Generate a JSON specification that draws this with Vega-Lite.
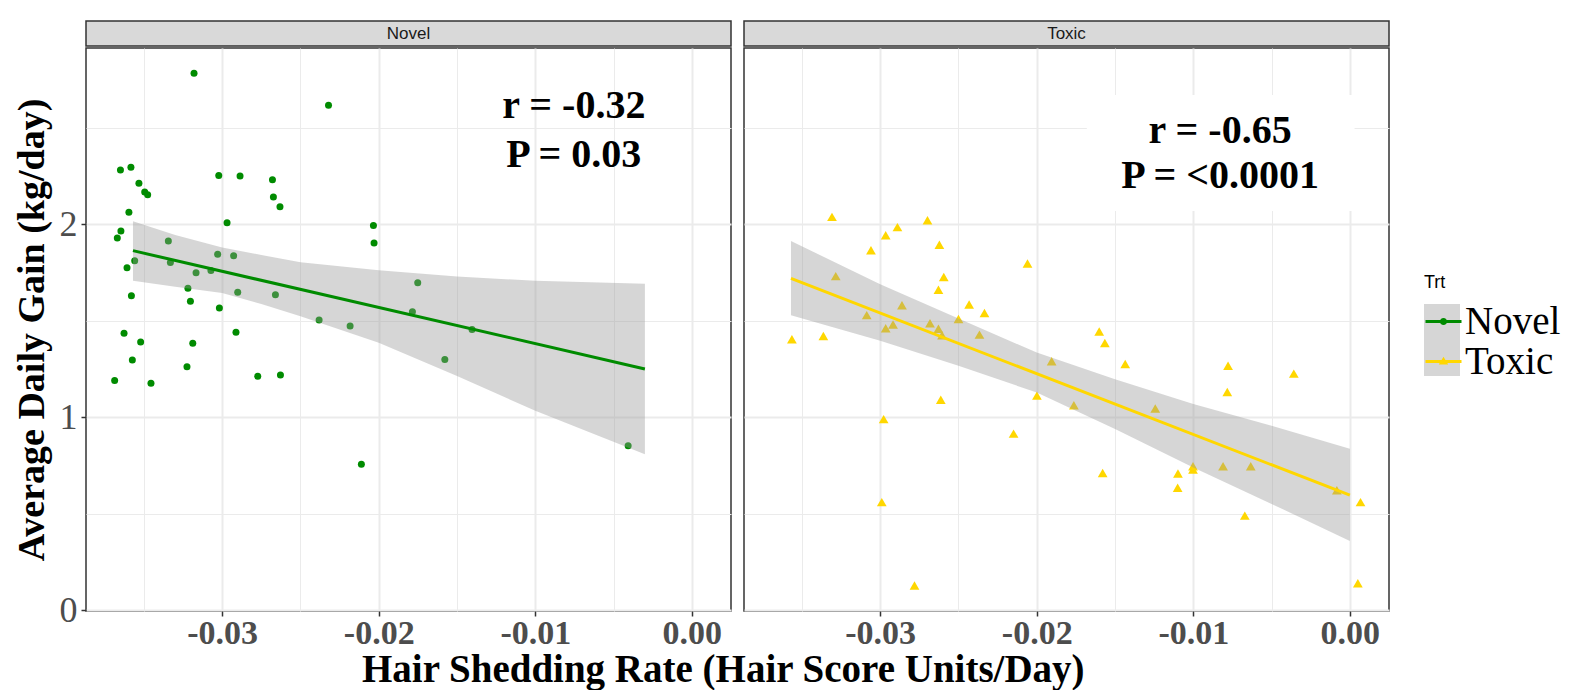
{
  "$schema": "https://vega.github.io/schema/vega-lite/v6.json",
  "padding": {"left": 12, "top": 20, "right": 5, "bottom": 0},
  "datasets": {
    "points": [
      {"Trt": "Novel", "shed": -0.0318, "adg": 2.783},
      {"Trt": "Novel", "shed": -0.02321, "adg": 2.618},
      {"Trt": "Novel", "shed": -0.0365, "adg": 2.282},
      {"Trt": "Novel", "shed": -0.03583, "adg": 2.296},
      {"Trt": "Novel", "shed": -0.03532, "adg": 2.213},
      {"Trt": "Novel", "shed": -0.03495, "adg": 2.168},
      {"Trt": "Novel", "shed": -0.03476, "adg": 2.154},
      {"Trt": "Novel", "shed": -0.03596, "adg": 2.063},
      {"Trt": "Novel", "shed": -0.03022, "adg": 2.253},
      {"Trt": "Novel", "shed": -0.02886, "adg": 2.251},
      {"Trt": "Novel", "shed": -0.02679, "adg": 2.232},
      {"Trt": "Novel", "shed": -0.02673, "adg": 2.142},
      {"Trt": "Novel", "shed": -0.02631, "adg": 2.092},
      {"Trt": "Novel", "shed": -0.02969, "adg": 2.008},
      {"Trt": "Novel", "shed": -0.02034, "adg": 1.994},
      {"Trt": "Novel", "shed": -0.0203, "adg": 1.904},
      {"Trt": "Novel", "shed": -0.03647, "adg": 1.966},
      {"Trt": "Novel", "shed": -0.0367, "adg": 1.93},
      {"Trt": "Novel", "shed": -0.03344, "adg": 1.914},
      {"Trt": "Novel", "shed": -0.03559, "adg": 1.812},
      {"Trt": "Novel", "shed": -0.03331, "adg": 1.802},
      {"Trt": "Novel", "shed": -0.03029, "adg": 1.846},
      {"Trt": "Novel", "shed": -0.02927, "adg": 1.837},
      {"Trt": "Novel", "shed": -0.03608, "adg": 1.775},
      {"Trt": "Novel", "shed": -0.03167, "adg": 1.75},
      {"Trt": "Novel", "shed": -0.03072, "adg": 1.761},
      {"Trt": "Novel", "shed": -0.01751, "adg": 1.698},
      {"Trt": "Novel", "shed": -0.0358, "adg": 1.63},
      {"Trt": "Novel", "shed": -0.03219, "adg": 1.669},
      {"Trt": "Novel", "shed": -0.02901, "adg": 1.649},
      {"Trt": "Novel", "shed": -0.0266, "adg": 1.636},
      {"Trt": "Novel", "shed": -0.03203, "adg": 1.602},
      {"Trt": "Novel", "shed": -0.03018, "adg": 1.567},
      {"Trt": "Novel", "shed": -0.02381, "adg": 1.505},
      {"Trt": "Novel", "shed": -0.02183, "adg": 1.474},
      {"Trt": "Novel", "shed": -0.01785, "adg": 1.548},
      {"Trt": "Novel", "shed": -0.03627, "adg": 1.436},
      {"Trt": "Novel", "shed": -0.03521, "adg": 1.391},
      {"Trt": "Novel", "shed": -0.03574, "adg": 1.298},
      {"Trt": "Novel", "shed": -0.03687, "adg": 1.191},
      {"Trt": "Novel", "shed": -0.03455, "adg": 1.177},
      {"Trt": "Novel", "shed": -0.03225, "adg": 1.262},
      {"Trt": "Novel", "shed": -0.03188, "adg": 1.384},
      {"Trt": "Novel", "shed": -0.02912, "adg": 1.441},
      {"Trt": "Novel", "shed": -0.02773, "adg": 1.213},
      {"Trt": "Novel", "shed": -0.02628, "adg": 1.22},
      {"Trt": "Novel", "shed": -0.02111, "adg": 0.757},
      {"Trt": "Novel", "shed": -0.01404, "adg": 1.455},
      {"Trt": "Novel", "shed": -0.01578, "adg": 1.3},
      {"Trt": "Novel", "shed": -0.00407, "adg": 0.853},
      {"Trt": "Toxic", "shed": -0.03308, "adg": 2.039},
      {"Trt": "Toxic", "shed": -0.02698, "adg": 2.022},
      {"Trt": "Toxic", "shed": -0.0289, "adg": 1.986},
      {"Trt": "Toxic", "shed": -0.02965, "adg": 1.944},
      {"Trt": "Toxic", "shed": -0.03059, "adg": 1.866},
      {"Trt": "Toxic", "shed": -0.02622, "adg": 1.895},
      {"Trt": "Toxic", "shed": -0.02059, "adg": 1.797},
      {"Trt": "Toxic", "shed": -0.03284, "adg": 1.732},
      {"Trt": "Toxic", "shed": -0.02594, "adg": 1.728},
      {"Trt": "Toxic", "shed": -0.02628, "adg": 1.661},
      {"Trt": "Toxic", "shed": -0.02861, "adg": 1.581},
      {"Trt": "Toxic", "shed": -0.02432, "adg": 1.585},
      {"Trt": "Toxic", "shed": -0.02334, "adg": 1.541},
      {"Trt": "Toxic", "shed": -0.03086, "adg": 1.53},
      {"Trt": "Toxic", "shed": -0.02682, "adg": 1.488},
      {"Trt": "Toxic", "shed": -0.025, "adg": 1.51},
      {"Trt": "Toxic", "shed": -0.02918, "adg": 1.481},
      {"Trt": "Toxic", "shed": -0.02965, "adg": 1.462},
      {"Trt": "Toxic", "shed": -0.02628, "adg": 1.459},
      {"Trt": "Toxic", "shed": -0.02605, "adg": 1.426},
      {"Trt": "Toxic", "shed": -0.02366, "adg": 1.429},
      {"Trt": "Toxic", "shed": -0.03564, "adg": 1.405},
      {"Trt": "Toxic", "shed": -0.03363, "adg": 1.422},
      {"Trt": "Toxic", "shed": -0.01905, "adg": 1.291},
      {"Trt": "Toxic", "shed": -0.01999, "adg": 1.113},
      {"Trt": "Toxic", "shed": -0.02613, "adg": 1.092},
      {"Trt": "Toxic", "shed": -0.02978, "adg": 0.991},
      {"Trt": "Toxic", "shed": -0.02148, "adg": 0.916},
      {"Trt": "Toxic", "shed": -0.0299, "adg": 0.561},
      {"Trt": "Toxic", "shed": -0.02781, "adg": 0.129},
      {"Trt": "Toxic", "shed": -0.01601, "adg": 1.445},
      {"Trt": "Toxic", "shed": -0.01565, "adg": 1.386},
      {"Trt": "Toxic", "shed": -0.01435, "adg": 1.277},
      {"Trt": "Toxic", "shed": -0.00778, "adg": 1.268},
      {"Trt": "Toxic", "shed": -0.00783, "adg": 1.132},
      {"Trt": "Toxic", "shed": -0.00358, "adg": 1.227},
      {"Trt": "Toxic", "shed": -0.01763, "adg": 1.063},
      {"Trt": "Toxic", "shed": -0.01243, "adg": 1.046},
      {"Trt": "Toxic", "shed": -0.01579, "adg": 0.712},
      {"Trt": "Toxic", "shed": -0.01098, "adg": 0.709},
      {"Trt": "Toxic", "shed": -0.01002, "adg": 0.747},
      {"Trt": "Toxic", "shed": -0.01002, "adg": 0.73},
      {"Trt": "Toxic", "shed": -0.0081, "adg": 0.747},
      {"Trt": "Toxic", "shed": -0.00633, "adg": 0.747},
      {"Trt": "Toxic", "shed": -0.011, "adg": 0.636},
      {"Trt": "Toxic", "shed": -0.00083, "adg": 0.623},
      {"Trt": "Toxic", "shed": 0.00068, "adg": 0.561},
      {"Trt": "Toxic", "shed": -0.00671, "adg": 0.491},
      {"Trt": "Toxic", "shed": 0.00051, "adg": 0.141}
    ],
    "band": [
      {"Trt": "Novel", "shed": -0.0357, "lo": 1.708, "hi": 2.017},
      {"Trt": "Novel", "shed": -0.033, "lo": 1.677, "hi": 1.945},
      {"Trt": "Novel", "shed": -0.03, "lo": 1.644, "hi": 1.881},
      {"Trt": "Novel", "shed": -0.0275, "lo": 1.588, "hi": 1.842},
      {"Trt": "Novel", "shed": -0.025, "lo": 1.524, "hi": 1.804},
      {"Trt": "Novel", "shed": -0.02, "lo": 1.387, "hi": 1.763},
      {"Trt": "Novel", "shed": -0.015, "lo": 1.215, "hi": 1.73},
      {"Trt": "Novel", "shed": -0.01, "lo": 1.034, "hi": 1.708},
      {"Trt": "Novel", "shed": -0.003, "lo": 0.809, "hi": 1.692},
      {"Trt": "Toxic", "shed": -0.0357, "lo": 1.529, "hi": 1.914},
      {"Trt": "Toxic", "shed": -0.03, "lo": 1.397, "hi": 1.69},
      {"Trt": "Toxic", "shed": -0.025, "lo": 1.268, "hi": 1.512},
      {"Trt": "Toxic", "shed": -0.02, "lo": 1.129, "hi": 1.336},
      {"Trt": "Toxic", "shed": -0.015, "lo": 0.94, "hi": 1.198},
      {"Trt": "Toxic", "shed": -0.01, "lo": 0.741, "hi": 1.069},
      {"Trt": "Toxic", "shed": -0.005, "lo": 0.552, "hi": 0.957},
      {"Trt": "Toxic", "shed": 0.0, "lo": 0.36, "hi": 0.838}
    ],
    "fit": [
      {"Trt": "Novel", "shed": -0.0357, "adg": 1.864},
      {"Trt": "Novel", "shed": -0.003, "adg": 1.251},
      {"Trt": "Toxic", "shed": -0.0357, "adg": 1.72},
      {"Trt": "Toxic", "shed": 0.0, "adg": 0.597}
    ],
    "notes": [
      {"Trt": "Novel", "shed": -0.00754, "adg": 2.552, "label": "r = -0.32"},
      {"Trt": "Novel", "shed": -0.00754, "adg": 2.298, "label": "P = 0.03"},
      {"Trt": "Toxic", "shed": -0.00829, "adg": 2.422, "label": "r = -0.65"},
      {"Trt": "Toxic", "shed": -0.00829, "adg": 2.189, "label": "P = <0.0001"}
    ],
    "box": [
      {"Trt": "Toxic", "x1": -0.0168, "x2": 0.0003, "y1": 2.07, "y2": 2.67}
    ],
    "strips": [{"Trt": "Novel"}, {"Trt": "Toxic"}]
  },
  "hconcat": [
    {
      "spacing": 0,
      "vconcat": [
        {
          "width": 645, "height": 25,
          "view": {"fill": "#D9D9D9", "stroke": "#333333", "strokeWidth": 1.5},
          "data": {"name": "strips"},
          "transform": [{"filter": "datum.Trt === 'Novel'"}],
          "mark": {"type": "text", "font": "Liberation Sans", "fontSize": 17, "color": "#1A1A1A", "baseline": "middle"},
          "encoding": {"text": {"field": "Trt"}}
        },
        {
          "width": 645, "height": 563,
          "layer": [
            {
              "data": {"name": "points"},
              "transform": [{"filter": "datum.Trt === 'Novel'"}],
              "mark": {"type": "point", "filled": true, "opacity": 1, "size": 49, "shape": "circle"},
              "encoding": {
                "x": {"field": "shed", "type": "quantitative", "title": null,
                  "scale": {"domain": [-0.0387, 0.0025], "nice": false, "zero": false},
                  "axis": {"values": [-0.035, -0.03, -0.025, -0.02, -0.015, -0.01, -0.005, 0],
                    "labelExpr": "abs(datum.value*100 - round(datum.value*100)) > 0.1 ? '' : (datum.value < -0.0001 ? '-' : '') + format(abs(datum.value), '.2f')",
                    "labelFontWeight": "bold", "labelFontSize": 34, "labelPadding": 0,
                    "gridWidth": {"condition": {"test": "abs(datum.value*100 - round(datum.value*100)) > 0.1", "value": 1}, "value": 2},
                    "tickOpacity": {"condition": {"test": "abs(datum.value*100 - round(datum.value*100)) > 0.1", "value": 0}, "value": 1}}},
                "y": {"field": "adg", "type": "quantitative", "title": "Average Daily Gain (kg/day)",
                  "scale": {"domain": [-0.003, 2.914], "nice": false, "zero": false},
                  "axis": {"values": [0, 0.5, 1, 1.5, 2, 2.5],
                    "labelExpr": "datum.value % 1 === 0 ? format(datum.value, 'd') : ''",
                    "labelFontSize": 36, "labelPadding": 4, "titlePadding": 8, "titleFontSize": 38,
                    "gridWidth": {"condition": {"test": "datum.value % 1 !== 0", "value": 1}, "value": 2},
                    "tickOpacity": {"condition": {"test": "datum.value % 1 !== 0", "value": 0}, "value": 1}}},
                "color": {"field": "Trt", "type": "nominal",
                  "scale": {"domain": ["Novel", "Toxic"], "range": ["#008B00", "#FFD700"]},
                  "legend": {"orient": "none", "legendX": 1338, "legendY": 253, "title": "Trt", "zindex": 2,
                    "titleFont": "Liberation Sans", "titleFontSize": 18, "titleFontWeight": "normal", "titleColor": "black", "titlePadding": 10,
                    "labelFont": "Liberation Serif", "labelFontSize": 39, "labelColor": "black", "labelOffset": 2,
                    "symbolSize": 1296, "rowPadding": -6, "symbolStrokeWidth": 0, "symbolOpacity": 1,
                    "encode": {
                      "symbols": {"update": {"shape": {"signal": "datum.value === 'Novel' ? 'M-1,-0.09H1V0.09H-1Z M-0.2,0A0.2,0.2,0,1,1,0.2,0A0.2,0.2,0,1,1,-0.2,0Z' : 'M-1,-0.09H1V0.09H-1Z M0,-0.27L0.26,0.16L-0.26,0.16Z'"}}}
                    }}}
              }
            },
            {
              "data": {"name": "band"},
              "transform": [{"filter": "datum.Trt === 'Novel'"}],
              "mark": {"type": "area", "opacity": 0.4},
              "encoding": {
                "x": {"field": "shed", "type": "quantitative", "title": null},
                "y": {"field": "lo", "type": "quantitative", "title": "Average Daily Gain (kg/day)"},
                "y2": {"field": "hi"},
                "fill": {"field": "Trt", "type": "nominal",
                  "scale": {"domain": ["Toxic", "Novel"], "range": ["#999999", "#999999"]},
                  "legend": {"orient": "none", "legendX": 1338, "legendY": 283, "title": null, "zindex": 1,
                    "values": ["Novel"], "labelExpr": "''",
                    "symbolType": "M-1,-1H1V3H-1Z", "symbolSize": 1296, "rowPadding": 0, "symbolStrokeWidth": 0,
                    "symbolOpacity": 0.4}}
              }
            },
            {
              "data": {"name": "fit"},
              "transform": [{"filter": "datum.Trt === 'Novel'"}],
              "mark": {"type": "line", "color": "#008B00", "strokeWidth": 3},
              "encoding": {
                "x": {"field": "shed", "type": "quantitative", "title": null},
                "y": {"field": "adg", "type": "quantitative", "title": "Average Daily Gain (kg/day)"}
              }
            },
            {
              "data": {"name": "notes"},
              "transform": [{"filter": "datum.Trt === 'Novel'"}],
              "mark": {"type": "text", "font": "Liberation Serif", "fontWeight": "bold", "fontSize": 40, "color": "black", "baseline": "alphabetic", "align": "center"},
              "encoding": {
                "x": {"field": "shed", "type": "quantitative", "title": null},
                "y": {"field": "adg", "type": "quantitative", "title": "Average Daily Gain (kg/day)"},
                "text": {"field": "label"}
              }
            }
          ]
        }
      ]
    },
    {
      "spacing": 0,
      "vconcat": [
        {
          "width": 645, "height": 25,
          "view": {"fill": "#D9D9D9", "stroke": "#333333", "strokeWidth": 1.5},
          "data": {"name": "strips"},
          "transform": [{"filter": "datum.Trt === 'Toxic'"}],
          "mark": {"type": "text", "font": "Liberation Sans", "fontSize": 17, "color": "#1A1A1A", "baseline": "middle"},
          "encoding": {"text": {"field": "Trt"}}
        },
        {
          "width": 645, "height": 563,
          "layer": [
            {
              "data": {"name": "points"},
              "transform": [{"filter": "datum.Trt === 'Toxic'"}],
              "mark": {"type": "point", "filled": true, "opacity": 1, "size": 95, "shape": "triangle-up"},
              "encoding": {
                "x": {"field": "shed", "type": "quantitative", "title": null,
                  "scale": {"domain": [-0.0387, 0.0025], "nice": false, "zero": false},
                  "axis": {"values": [-0.035, -0.03, -0.025, -0.02, -0.015, -0.01, -0.005, 0],
                    "labelExpr": "abs(datum.value*100 - round(datum.value*100)) > 0.1 ? '' : (datum.value < -0.0001 ? '-' : '') + format(abs(datum.value), '.2f')",
                    "labelFontWeight": "bold", "labelFontSize": 34, "labelPadding": 0,
                    "gridWidth": {"condition": {"test": "abs(datum.value*100 - round(datum.value*100)) > 0.1", "value": 1}, "value": 2},
                    "tickOpacity": {"condition": {"test": "abs(datum.value*100 - round(datum.value*100)) > 0.1", "value": 0}, "value": 1}}},
                "y": {"field": "adg", "type": "quantitative", "title": null,
                  "scale": {"domain": [-0.003, 2.914], "nice": false, "zero": false},
                  "axis": {"values": [0, 0.5, 1, 1.5, 2, 2.5], "labels": false, "ticks": false,
                    "gridWidth": {"condition": {"test": "datum.value % 1 !== 0", "value": 1}, "value": 2}}},
                "color": {"field": "Trt", "type": "nominal",
                  "scale": {"domain": ["Novel", "Toxic"], "range": ["#008B00", "#FFD700"]}}
              }
            },
            {
              "data": {"name": "band"},
              "transform": [{"filter": "datum.Trt === 'Toxic'"}],
              "mark": {"type": "area", "opacity": 0.4},
              "encoding": {
                "x": {"field": "shed", "type": "quantitative", "title": null},
                "y": {"field": "lo", "type": "quantitative", "title": null},
                "y2": {"field": "hi"},
                "fill": {"field": "Trt", "type": "nominal",
                  "scale": {"domain": ["Toxic", "Novel"], "range": ["#999999", "#999999"]}}
              }
            },
            {
              "data": {"name": "fit"},
              "transform": [{"filter": "datum.Trt === 'Toxic'"}],
              "mark": {"type": "line", "color": "#FFD700", "strokeWidth": 3},
              "encoding": {
                "x": {"field": "shed", "type": "quantitative", "title": null},
                "y": {"field": "adg", "type": "quantitative", "title": null}
              }
            },
            {
              "data": {"name": "box"},
              "mark": {"type": "rect", "color": "white", "opacity": 1},
              "encoding": {
                "x": {"field": "x1", "type": "quantitative", "title": null},
                "x2": {"field": "x2"},
                "y": {"field": "y1", "type": "quantitative", "title": null},
                "y2": {"field": "y2"}
              }
            },
            {
              "data": {"name": "notes"},
              "transform": [{"filter": "datum.Trt === 'Toxic'"}],
              "mark": {"type": "text", "font": "Liberation Serif", "fontWeight": "bold", "fontSize": 40, "color": "black", "baseline": "alphabetic", "align": "center"},
              "encoding": {
                "x": {"field": "shed", "type": "quantitative", "title": null},
                "y": {"field": "adg", "type": "quantitative", "title": null},
                "text": {"field": "label"}
              }
            }
          ]
        }
      ]
    }
  ],
  "spacing": 11,
  "title": {"text": "Hair Shedding Rate (Hair Score Units/Day)", "orient": "bottom", "anchor": "start", "frame": "group", "dx": 276,
    "font": "Liberation Serif", "fontSize": 39, "fontWeight": "bold", "color": "black", "offset": 0},
  "config": {
    "font": "Liberation Serif",
    "view": {"stroke": "#333333", "strokeWidth": 1.5},
    "axis": {"gridColor": "#EBEBEB", "domain": false, "tickColor": "#333333", "tickSize": 5, "tickWidth": 1.5,
      "labelFont": "Liberation Serif", "titleFont": "Liberation Serif", "labelColor": "#4D4D4D",
      "titleFontSize": 38, "titleFontWeight": "bold", "titleColor": "black",
      "labelFlush": false, "labelOverlap": false, "labelBound": false}
  }
}
